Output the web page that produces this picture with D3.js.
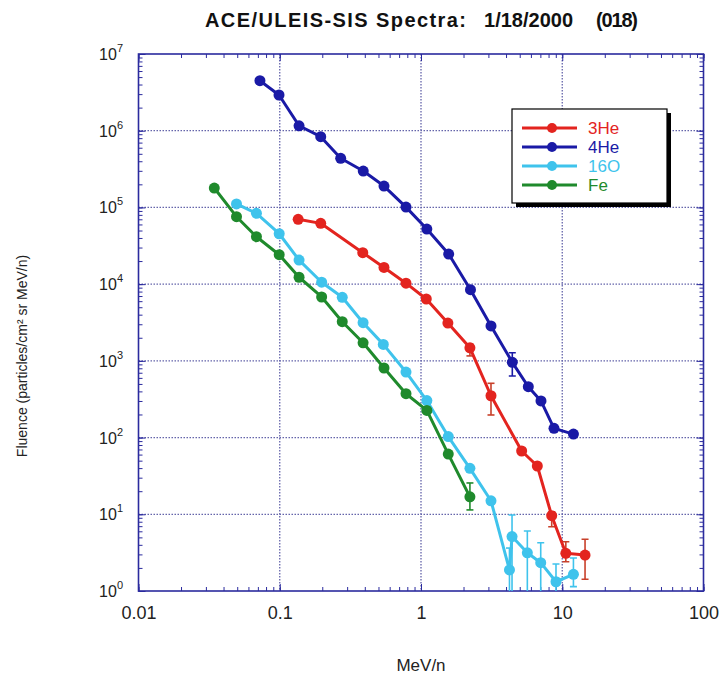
<!DOCTYPE html>
<html lang="en">
<head>
    <meta charset="UTF-8">
    <title>ACE/ULEIS-SIS Spectra</title>
    <script src="https://d3js.org/d3.v7.min.js"></script>
    <style>
        body { margin: 0; background: #fff; }
        svg { font-family: "Liberation Sans", Arial, Helvetica, sans-serif; }
        .grid line { stroke: #6464aa; stroke-width: 1.3px; stroke-dasharray: 1.5,1.5; }
        .frame { fill: none; stroke: #2b2b9e; stroke-width: 1.6px; }
        .axis line { stroke: #2b2b9e; }
        .axis path { display: none; }
        .series path { fill: none; stroke-width: 3px; stroke-linejoin: round; }
        .err line { stroke-width: 1.6px; }
    </style>
</head>
<body>
    <div id="chart"></div>
    <script>
        // values (MeV/n, fluence)
        const energy3He = [0.135, 0.195, 0.387, 0.547, 0.783, 1.09, 1.55, 2.22, 3.13, 5.16, 6.66, 8.42, 10.6, 14.5];
        const flux3He   = [7.0e4, 6.2e4, 2.57e4, 1.65e4, 1.03e4, 6.4e3, 3.11e3, 1.48e3, 351, 66.8, 42.6, 9.58, 3.1, 2.94];
        const err3HeIdx = [7, 8, 11, 12, 13];
        const err3HeLo  = [1160, 197, 6.88, 2.41, 1.42];
        const err3HeHi  = [1660, 510, 10.8, 4.39, 4.72];

        const energy4He = [0.0724, 0.0988, 0.137, 0.195, 0.27, 0.39, 0.547, 0.783, 1.1, 1.57, 2.24, 3.13, 4.43, 5.75, 7.07, 8.74, 12.0];
        const flux4He   = [4.49e6, 2.92e6, 1.16e6, 8.36e5, 4.37e5, 2.98e5, 1.9e5, 1.01e5, 5.23e4, 2.47e4, 8.46e3, 2.85e3, 957, 460, 300, 132, 111];
        const err4HeIdx = [12];
        const err4HeLo  = [634];
        const err4HeHi  = [1277];

        const energy16O = [0.0494, 0.0684, 0.0991, 0.137, 0.198, 0.277, 0.389, 0.541, 0.783, 1.1, 1.56, 2.22, 3.13, 4.23, 4.41, 5.66, 7.04, 9.03, 12.0];
        const flux16O   = [1.11e5, 8.38e4, 4.54e4, 2.06e4, 1.06e4, 6.74e3, 3.14e3, 1.64e3, 715, 304, 103, 39.7, 15.0, 1.88, 5.13, 3.15, 2.34, 1.32, 1.65];
        const err16OIdx = [13, 14, 15, 16, 17, 18];
        const err16OLo  = [0.4, 0.4, 0.4, 0.4, 0.4, 1.14];
        const err16OHi  = [3.63, 9.8, 6.05, 4.26, 2.25, 2.69];

        const energyFe = [0.0344, 0.0494, 0.0684, 0.0991, 0.137, 0.198, 0.277, 0.389, 0.547, 0.783, 1.1, 1.56, 2.22];
        const fluxFe   = [1.79e5, 7.57e4, 4.15e4, 2.42e4, 1.23e4, 6.8e3, 3.24e3, 1.72e3, 807, 373, 226, 61, 16.9];
        const errFeIdx = [12];
        const errFeLo  = [11.4];
        const errFeHi  = [25.6];

        const speciesNames  = ["3He", "4He", "16O", "Fe"];
        const speciesColors = ["#e3241f", "#1a1aa6", "#3fc3ec", "#1f8a2c"];
        const errColors     = ["#c8402a", "#1a1aa6", "#3fc3ec", "#1f8a2c"];

        const xTickValues = [0.01, 0.1, 1, 10, 100];
        const xTickLabels = ["0.01", "0.1", "1", "10", "100"];
        const yExponents  = [0, 1, 2, 3, 4, 5, 6, 7];

        const series = [
            {e: energy3He, f: flux3He, ei: err3HeIdx, lo: err3HeLo, hi: err3HeHi},
            {e: energy4He, f: flux4He, ei: err4HeIdx, lo: err4HeLo, hi: err4HeHi},
            {e: energy16O, f: flux16O, ei: err16OIdx, lo: err16OLo, hi: err16OHi},
            {e: energyFe,  f: fluxFe,  ei: errFeIdx,  lo: errFeLo,  hi: errFeHi}
        ].map((s, i) => ({
            name: speciesNames[i],
            color: speciesColors[i],
            errColor: errColors[i],
            points: s.e.map((e, j) => ({e: e, f: s.f[j]})),
            errs: s.ei.map((k, j) => ({e: s.e[k], lo: s.lo[j], hi: s.hi[j]}))
        }));

        const width = 721, height = 680;
        const pl = 138.5, pr = 703.5, pt = 54, pb = 591;

        const x = d3.scaleLog().domain([0.01, 100]).range([pl, pr]);
        const y = d3.scaleLog().domain([1, 1e7]).range([pb, pt]);

        const svg = d3.select("#chart").append("svg")
            .attr("width", width)
            .attr("height", height);

        svg.append("defs").append("clipPath")
            .attr("id", "plotClip")
            .append("rect")
            .attr("x", pl).attr("y", pt)
            .attr("width", pr - pl).attr("height", pb - pt);

        // decade grid
        const grid = svg.append("g").attr("class", "grid");
        grid.selectAll(".gx")
            .data(xTickValues.slice(1, -1))
            .enter().append("line")
            .attr("x1", d => x(d)).attr("x2", d => x(d))
            .attr("y1", pt).attr("y2", pb);
        grid.selectAll(".gy")
            .data(yExponents.slice(1, -1))
            .enter().append("line")
            .attr("x1", pl).attr("x2", pr)
            .attr("y1", d => y(Math.pow(10, d))).attr("y2", d => y(Math.pow(10, d)));

        // inward ticks on all four sides
        function ticks(axis, tx, ty, values, size) {
            svg.append("g")
                .attr("class", "axis")
                .attr("transform", "translate(" + tx + "," + ty + ")")
                .call(axis.tickValues(values).tickSize(-size).tickSizeOuter(0).tickFormat(""));
        }
        const xMinor = x.ticks(), yMinor = y.ticks();
        const yMajor = yExponents.map(d => Math.pow(10, d));
        ticks(d3.axisBottom(x), 0, pb, xMinor, 4);
        ticks(d3.axisBottom(x), 0, pb, xTickValues, 7);
        ticks(d3.axisTop(x), 0, pt, xMinor, 4);
        ticks(d3.axisTop(x), 0, pt, xTickValues, 7);
        ticks(d3.axisLeft(y), pl, 0, yMinor, 4);
        ticks(d3.axisLeft(y), pl, 0, yMajor, 7);
        ticks(d3.axisRight(y), pr, 0, yMinor, 4);
        ticks(d3.axisRight(y), pr, 0, yMajor, 7);

        svg.append("rect")
            .attr("class", "frame")
            .attr("x", pl).attr("y", pt)
            .attr("width", pr - pl).attr("height", pb - pt);

        // x tick labels
        const xLab = svg.append("g")
            .attr("transform", "translate(0," + pb + ")")
            .call(d3.axisBottom(x).tickValues(xTickValues).tickSize(0).tickPadding(15)
                .tickFormat((d, i) => xTickLabels[i]));
        xLab.select(".domain").remove();
        xLab.selectAll("text")
            .attr("font-size", 18)
            .attr("font-family", "Liberation Sans, Arial, sans-serif")
            .attr("fill", "#222");

        // y tick labels 10^n
        const yLab = svg.append("g").selectAll("text")
            .data(yExponents)
            .enter().append("text")
            .attr("x", 123)
            .attr("y", d => y(Math.pow(10, d)) + 6)
            .attr("text-anchor", "end")
            .attr("font-size", 16)
            .attr("fill", "#222");
        yLab.append("tspan").text("10");
        yLab.append("tspan")
            .attr("dy", -8)
            .attr("font-size", 11)
            .text(d => d);

        // data
        const plot = svg.append("g").attr("clip-path", "url(#plotClip)");
        const line = d3.line().x(d => x(d.e)).y(d => y(d.f));

        const g = plot.selectAll(".series")
            .data(series)
            .enter().append("g")
            .attr("class", "series");

        g.append("g").attr("class", "err")
            .each(function(s) {
                const eb = d3.select(this).selectAll("g")
                    .data(s.errs)
                    .enter().append("g")
                    .attr("stroke", s.errColor);
                eb.append("line")
                    .attr("x1", d => x(d.e)).attr("x2", d => x(d.e))
                    .attr("y1", d => y(d.lo)).attr("y2", d => y(d.hi));
                eb.append("line")
                    .attr("x1", d => x(d.e) - 3.5).attr("x2", d => x(d.e) + 3.5)
                    .attr("y1", d => y(d.hi)).attr("y2", d => y(d.hi));
                eb.append("line")
                    .attr("x1", d => x(d.e) - 3.5).attr("x2", d => x(d.e) + 3.5)
                    .attr("y1", d => y(d.lo)).attr("y2", d => y(d.lo));
            });

        g.append("path")
            .attr("stroke", d => d.color)
            .attr("d", d => line(d.points));

        g.selectAll("circle")
            .data(d => d.points.map(p => ({p: p, c: d.color})))
            .enter().append("circle")
            .attr("cx", d => x(d.p.e))
            .attr("cy", d => y(d.p.f))
            .attr("r", 5.5)
            .attr("fill", d => d.c);

        // legend
        const lg = svg.append("g").attr("transform", "translate(512,109)");
        lg.append("rect")
            .attr("x", 4).attr("y", 4)
            .attr("width", 155).attr("height", 94)
            .attr("fill", "#000");
        lg.append("rect")
            .attr("width", 155).attr("height", 94)
            .attr("fill", "#fff")
            .attr("stroke", "#000")
            .attr("stroke-width", 1.2);
        const row = lg.selectAll(".row")
            .data(series)
            .enter().append("g")
            .attr("transform", (d, i) => "translate(0," + (19 + i * 19) + ")");
        row.append("line")
            .attr("x1", 10).attr("x2", 65)
            .attr("stroke", d => d.color)
            .attr("stroke-width", 3);
        row.append("circle")
            .attr("cx", 40).attr("r", 5)
            .attr("fill", d => d.color);
        row.append("text")
            .attr("x", 76).attr("y", 6)
            .attr("font-size", 17)
            .attr("fill", d => d.color)
            .text(d => d.name);

        // titles
        const title = svg.append("text")
            .attr("y", 27)
            .attr("font-size", 20)
            .attr("font-weight", "bold")
            .attr("fill", "#111");
        title.append("tspan").attr("x", 205)
            .attr("textLength", 261).attr("lengthAdjust", "spacing")
            .text("ACE/ULEIS-SIS Spectra:");
        title.append("tspan").attr("x", 484)
            .attr("textLength", 89).attr("lengthAdjust", "spacing")
            .text("1/18/2000");
        title.append("tspan").attr("x", 596)
            .attr("textLength", 42).attr("lengthAdjust", "spacing")
            .text("(018)");

        svg.append("text")
            .attr("x", 421).attr("y", 671)
            .attr("text-anchor", "middle")
            .attr("font-size", 17)
            .attr("fill", "#222")
            .text("MeV/n");

        svg.append("text")
            .attr("transform", "translate(27,356) rotate(-90)")
            .attr("text-anchor", "middle")
            .attr("font-size", 14)
            .attr("fill", "#222")
            .text("Fluence (particles/cm\u00b2 sr MeV/n)");
    </script>
</body>
</html>
